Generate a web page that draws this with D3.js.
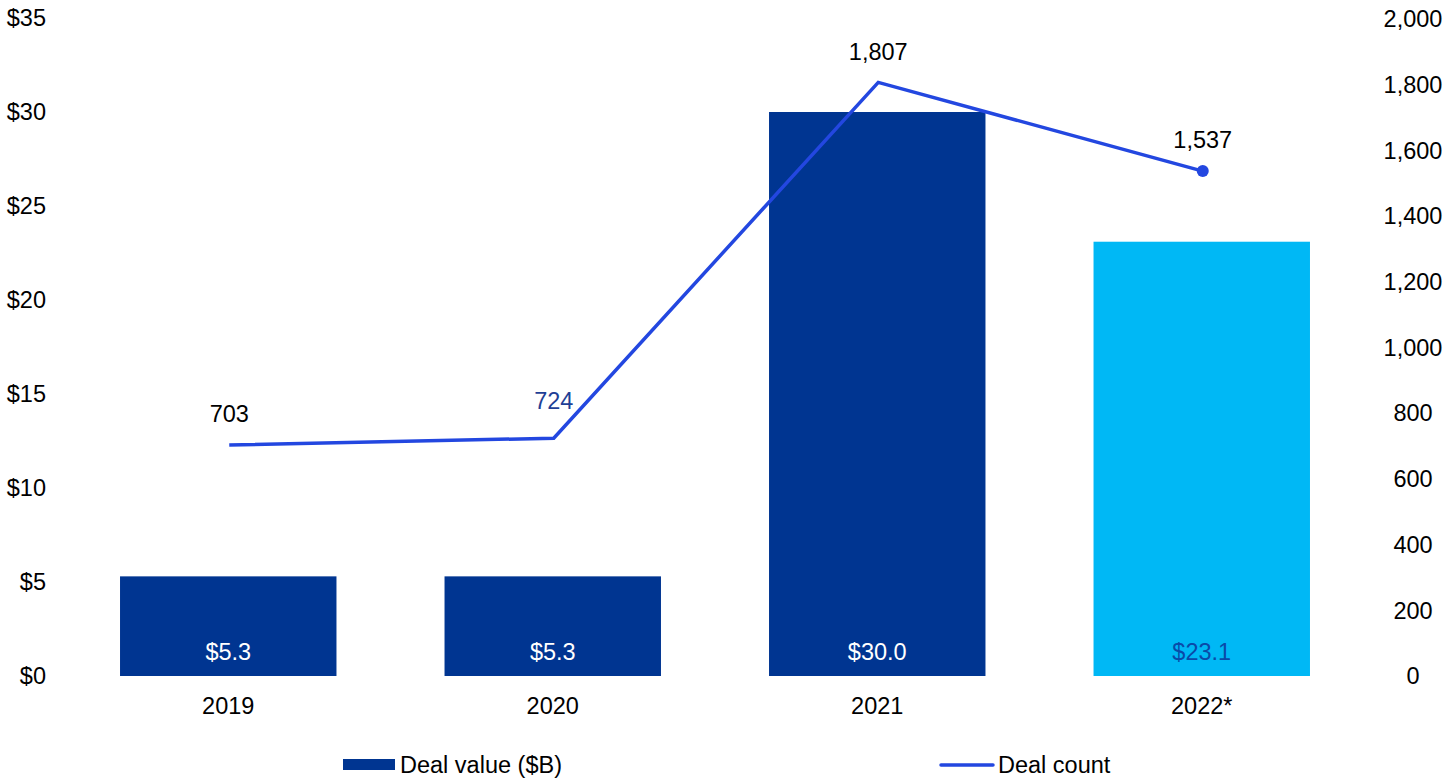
<!DOCTYPE html>
<html>
<head>
<meta charset="utf-8">
<script src="https://cdn.jsdelivr.net/npm/d3@7"></script>
<style>
  body { margin: 0; background: #fff; }
  text { font-family: "Liberation Sans", Arial, sans-serif; }
</style>
</head>
<body>
<div id="chart"></div>
<script>
var w = 1453,
    h = 779,
    fs = "23.5px";

// data
var years = ["2019", "2020", "2021", "2022*"];
var dealValue = [5.3, 5.3, 30.0, 23.1];
var dealCount = [703, 724, 1807, 1537];
var leftTicks = [0, 5, 10, 15, 20, 25, 30, 35];
var rightTicks = [0, 200, 400, 600, 800, 1000, 1200, 1400, 1600, 1800, 2000];

var navy = "#003591",
    cyan = "#00b8f5",
    lineBlue = "#2347e0";

var x = d3.scaleBand().domain(years).range([66, 1364]).paddingInner(0.333).paddingOuter(0.1665),
    y = d3.scaleLinear().domain([0, 35]).range([676, 18]),
    y2 = d3.scaleLinear().domain([0, 2000]).range([676, 19]);

var svg = d3.select("#chart").append("svg")
    .attr("width", w)
    .attr("height", h);

// left axis
svg.append("g").selectAll("text")
    .data(leftTicks)
  .enter().append("text")
    .attr("x", 46)
    .attr("y", function(d) { return y(d); })
    .attr("dy", "0.35em")
    .attr("text-anchor", "end")
    .style("font-size", fs)
    .text(function(d) { return "$" + d; });

// right axis
var fmt = d3.format(",");
svg.append("g").selectAll("text")
    .data(rightTicks)
  .enter().append("text")
    .attr("x", 1413)
    .attr("y", function(d) { return y2(d); })
    .attr("dy", "0.35em")
    .attr("text-anchor", "middle")
    .style("font-size", fs)
    .text(function(d) { return fmt(d); });

// bars
svg.append("g").selectAll("rect")
    .data(dealValue)
  .enter().append("rect")
    .attr("x", function(d, i) { return x(years[i]); })
    .attr("y", function(d) { return y(d); })
    .attr("width", x.bandwidth())
    .attr("height", function(d) { return y(0) - y(d); })
    .attr("fill", function(d, i) { return i === 3 ? cyan : navy; });

svg.append("g").selectAll("text")
    .data(dealValue)
  .enter().append("text")
    .attr("x", function(d, i) { return x(years[i]) + x.bandwidth() / 2; })
    .attr("y", 652)
    .attr("dy", "0.35em")
    .attr("text-anchor", "middle")
    .style("font-size", fs)
    .attr("fill", function(d, i) { return i === 3 ? "#0a4aa8" : "#fff"; })
    .text(function(d) { return "$" + d.toFixed(1); });

// x labels
svg.append("g").selectAll("text")
    .data(years)
  .enter().append("text")
    .attr("x", function(d) { return x(d) + x.bandwidth() / 2; })
    .attr("y", 706)
    .attr("dy", "0.35em")
    .attr("text-anchor", "middle")
    .style("font-size", fs)
    .text(function(d) { return d; });

// line
var cx = function(i) { return x(years[i]) + x.bandwidth() / 2 + 1; };
var line = d3.line()
    .x(function(d, i) { return cx(i); })
    .y(function(d) { return y2(d); });

svg.append("path")
    .datum(dealCount)
    .attr("d", line)
    .attr("fill", "none")
    .attr("stroke", lineBlue)
    .attr("stroke-width", 3.5);

svg.append("circle")
    .attr("cx", cx(3))
    .attr("cy", y2(dealCount[3]))
    .attr("r", 6)
    .attr("fill", lineBlue);

var labelOff = [31, 37, 31, 31];
svg.append("g").selectAll("text")
    .data(dealCount)
  .enter().append("text")
    .attr("x", function(d, i) { return cx(i); })
    .attr("y", function(d, i) { return y2(d) - labelOff[i]; })
    .attr("dy", "0.35em")
    .attr("text-anchor", "middle")
    .style("font-size", fs)
    .attr("fill", function(d, i) { return i === 1 ? "#1f3f96" : "#000"; })
    .text(function(d) { return fmt(d); });

// legend
var legend = svg.append("g");
legend.append("rect")
    .attr("x", 343).attr("y", 759)
    .attr("width", 52).attr("height", 11)
    .attr("fill", navy);
legend.append("text")
    .attr("x", 400).attr("y", 765)
    .attr("dy", "0.35em")
    .style("font-size", fs)
    .text("Deal value ($B)");
legend.append("line")
    .attr("x1", 941).attr("x2", 993)
    .attr("y1", 765).attr("y2", 765)
    .attr("stroke", lineBlue)
    .attr("stroke-width", 3.5)
    .attr("stroke-linecap", "round");
legend.append("text")
    .attr("x", 998).attr("y", 765)
    .attr("dy", "0.35em")
    .style("font-size", fs)
    .text("Deal count");
</script>
</body>
</html>
